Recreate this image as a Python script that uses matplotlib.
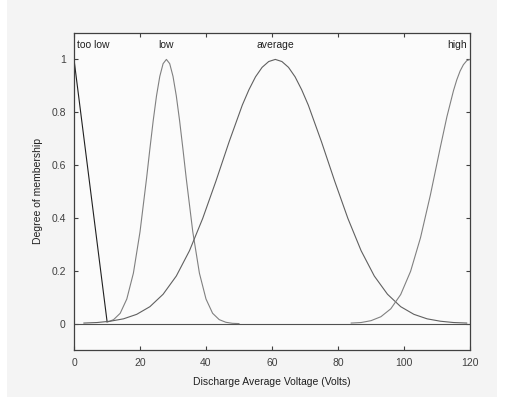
import matplotlib.pyplot as plt
from matplotlib.patches import Rectangle

plt.rcParams['font.family'] = ['Liberation Sans', 'DejaVu Sans']

# membership curves, values
toolow_x = [0, 10]
toolow_y = [1.0, 0.01]

low_x = [10, 12, 14, 16, 18, 20, 22, 23, 24, 25, 26, 27, 28, 29, 30, 31, 32, 33, 34, 36, 38,
         40, 42, 44, 46, 48, 50]
low_y = [0.005, 0.015, 0.039, 0.093, 0.191, 0.347, 0.551, 0.662, 0.768, 0.862, 0.936, 0.984,
         1.0, 0.984, 0.936, 0.862, 0.768, 0.662, 0.551, 0.347, 0.191, 0.093, 0.039, 0.015,
         0.005, 0.001, 0.0]

avg_x = [3, 7, 11, 15, 19, 23, 27, 31, 35, 39, 43, 47, 51, 53, 55, 57, 59, 61, 63, 65, 67, 69,
         71, 75, 79, 83, 87, 91, 95, 99, 103, 107, 111, 115, 119]
avg_y = [0.002, 0.004, 0.009, 0.018, 0.035, 0.064, 0.111, 0.180, 0.276, 0.398, 0.539, 0.688,
         0.827, 0.885, 0.934, 0.970, 0.992, 1.0, 0.992, 0.970, 0.934, 0.885, 0.827, 0.688,
         0.539, 0.398, 0.276, 0.180, 0.111, 0.064, 0.035, 0.018, 0.009, 0.004, 0.002]

high_x = [84, 87, 90, 93, 96, 99, 102, 105, 108, 111, 113, 115, 116, 117, 118, 119, 120]
high_y = [0.002, 0.004, 0.011, 0.026, 0.056, 0.110, 0.198, 0.325, 0.487, 0.667, 0.783, 0.882,
          0.923, 0.956, 0.980, 0.995, 1.0]

mf_names = ["too low", "low", "average", "high"]
mf_label_x = [1, 28, 61, 119]
mf_label_ha = ["left", "center", "center", "right"]

xticks = [0, 20, 40, 60, 80, 100, 120]
yticks = [0, 0.2, 0.4, 0.6, 0.8, 1]
ytick_labels = ["0", "0.2", "0.4", "0.6", "0.8", "1"]

fig = plt.figure(figsize=(5.12, 3.97), dpi=100, facecolor="white")
fig.patches.append(Rectangle((7 / 512, 0), 490 / 512, 1, transform=fig.transFigure,
                             facecolor="#f4f4f4", edgecolor="none", zorder=-10))
ax = fig.add_axes([74 / 512, 1 - 350 / 397, 396 / 512, 317 / 397])
ax.set_facecolor("#fbfbfb")

ax.plot([0, 120], [0, 0], color="#505050", lw=0.8)
ax.plot(toolow_x, toolow_y, color="#202020", lw=0.8)
ax.plot(low_x, low_y, color="#808080", lw=0.8)
ax.plot(avg_x, avg_y, color="#606060", lw=0.8)
ax.plot(high_x, high_y, color="#808080", lw=0.8)

for name, lx, ha in zip(mf_names, mf_label_x, mf_label_ha):
    ax.text(lx, 1.035, name, ha=ha, va="bottom", fontsize=7.5, color="#202020")

ax.set_xlim(0, 120)
ax.set_ylim(-0.1, 1.1)
ax.set_xticks(xticks)
ax.set_yticks(yticks)
ax.set_yticklabels(ytick_labels)
ax.tick_params(direction="in", top=True, right=True, length=3, width=0.8,
               labelsize=7.5, colors="#404040", pad=6)
for s in ax.spines.values():
    s.set_color("#404040")
    s.set_linewidth(0.9)

ax.set_xlabel("Discharge Average Voltage (Volts)", fontsize=7.5, color="#202020", labelpad=6)
ax.set_ylabel("Degree of membership", fontsize=7.5, color="#202020", labelpad=6)

fig.savefig("out.png", dpi=100, facecolor=fig.get_facecolor())
